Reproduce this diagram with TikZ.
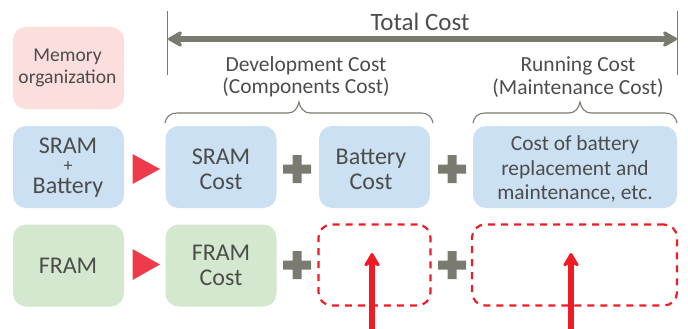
\documentclass[tikz,border=0pt]{standalone}
\usepackage{fontspec}
\setmainfont{Carlito}
\usetikzlibrary{arrows.meta}
\definecolor{txt}{HTML}{4C4D4A}
\definecolor{gry}{HTML}{7A7A70}
\definecolor{pinkb}{HTML}{FCDEDC}
\definecolor{blueb}{HTML}{CBE0F3}
\definecolor{greenb}{HTML}{D3E8CE}
\definecolor{tri}{HTML}{EE3B4B}
\definecolor{redl}{HTML}{EE1C25}
\tikzset{
 x=1pt,y=-1pt,
 box/.style={rounded corners=13pt,inner sep=0pt,minimum height=82pt},
 boxt/.style={text=txt,align=center,inner sep=0pt,font=\fontsize{24}{25}\selectfont},
 lbl/.style={text=txt,align=center,inner sep=0pt,font=\fontsize{21.5}{22.5}\selectfont},
 dbox/.style={draw=redl,line width=2.2pt,dash pattern=on 7pt off 6pt,rounded corners=13pt,inner sep=0pt,minimum height=81pt},
 brace/.style={draw=gry,line width=1.1pt},
 redarrow/.style={draw=redl,line width=5.5pt,-{Stealth[length=17pt,width=20pt,inset=6pt,round]}},
 greyarrow/.style={draw=gry,line width=5.5pt,{Stealth[length=18pt,width=20pt,inset=6pt,round]}-{Stealth[length=18pt,width=20pt,inset=6pt,round]}},
 tick/.style={draw=gry,line width=1pt},
 trimark/.style={fill=tri},
 plusmark/.style={fill=gry},
}
\newcommand{\plusat}[2]{\fill[plusmark] (#1-14,#2-4.5) rectangle (#1+14,#2+4.5) (#1-4.5,#2-14) rectangle (#1+4.5,#2+14);}
\begin{document}
\begin{tikzpicture}
\useasboundingbox (0,0) rectangle (688,329);
% boxes
\node[box,fill=pinkb,minimum width=111pt] (mem) at (68.5,68) {};
\node[boxt,font=\fontsize{19.6}{22}\selectfont] (memt) at (67.5,68) {Memory\\organization};
\node[box,fill=blueb,minimum width=111pt] (sb) at (68.5,167) {};
\node[boxt] (sbt1) at (68,146) {SRAM};
\node[boxt,font=\fontsize{18}{18}\selectfont] (sbt2) at (68,167) {+};
\node[boxt] (sbt3) at (68,188) {Battery};
\node[box,fill=blueb,minimum width=111pt] (sc) at (221,167) {};
\node[boxt] (sct) at (221,169.5) {SRAM\\Cost};
\node[box,fill=blueb,minimum width=111pt] (bc) at (374.5,167) {};
\node[boxt] (bct) at (371,169.5) {Battery\\Cost};
\node[box,fill=blueb,minimum width=204pt] (rc) at (575,167) {};
\node[boxt,font=\fontsize{21.4}{24.5}\selectfont] (rct) at (575,169) {Cost of battery\\replacement and\\maintenance, etc.};
\node[box,fill=greenb,minimum width=111pt] (fr) at (68.5,265.5) {};
\node[boxt] (frt) at (68,266) {FRAM};
\node[box,fill=greenb,minimum width=111pt] (fc) at (221,265.5) {};
\node[boxt] (fct) at (221,265) {FRAM\\Cost};
\node[dbox,minimum width=112pt] (d1) at (374.5,265) {};
\node[dbox,minimum width=205pt] (d2) at (574.5,265) {};
% triangles
\fill[trimark] (132.5,154) -- (160,169) -- (132.5,184) -- cycle;
\fill[trimark] (132.5,249) -- (160,264.5) -- (132.5,280) -- cycle;
% pluses
\plusat{297}{169}
\plusat{452}{169}
\plusat{297}{265}
\plusat{452}{265}
% total cost
\coordinate (tl) at (168,39);
\coordinate (tr) at (677,39);
\draw[tick] (167,11) -- (167,75);
\draw[tick] (677,11) -- (677,75);
\draw[greyarrow] (tl) -- (tr);
\node[lbl,font=\fontsize{25}{26}\selectfont] (total) at (420,22) {Total Cost};
\node[lbl] (dev) at (306,77) {Development Cost\\(Components Cost)};
\node[lbl] (run) at (578,77) {Running Cost\\(Maintenance Cost)};
% braces
\draw[brace] (165,123) .. controls (166,117) and (170,113) .. (177,113) -- (288,113) .. controls (294,113) and (298,108) .. (299,102) .. controls (300,108) and (304,113) .. (310,113) -- (421,113) .. controls (428,113) and (432,117) .. (433,123);
\draw[brace] (473,123) .. controls (474,117) and (478,113) .. (485,113) -- (569,113) .. controls (575,113) and (579,108) .. (580,102) .. controls (581,108) and (585,113) .. (591,113) -- (665,113) .. controls (672,113) and (676,117) .. (677,123);
% red arrows
\coordinate (a1) at (372,329);
\coordinate (a2) at (571,329);
\coordinate (t1) at (372,253);
\coordinate (t2) at (571,253);
\draw[redarrow] (a1) -- (t1);
\draw[redarrow] (a2) -- (t2);
\end{tikzpicture}
\end{document}
